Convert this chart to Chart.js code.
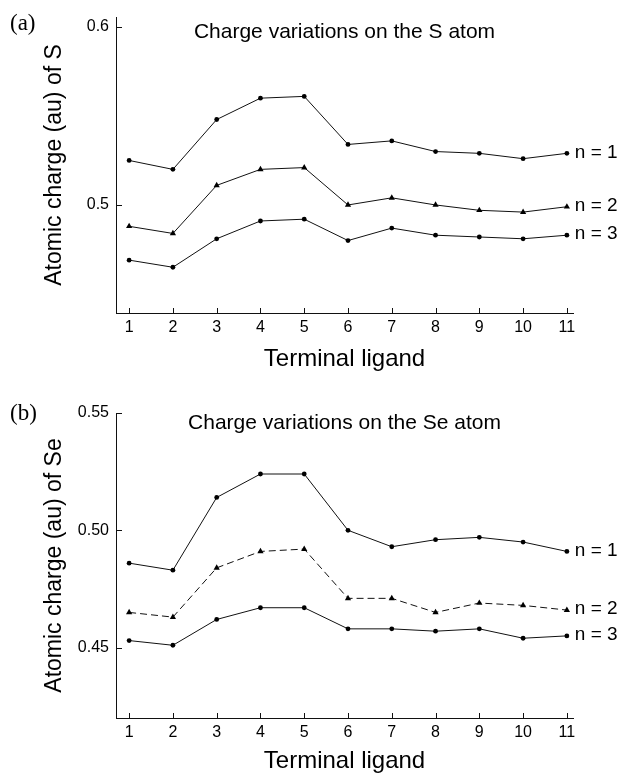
<!DOCTYPE html>
<html>
<head>
<meta charset="utf-8">
<script src="https://cdn.jsdelivr.net/npm/chart.js@4/dist/chart.umd.min.js"></script>
<style>
  body { margin: 0; background: #fff; }
  #wrap { position: relative; width: 621px; height: 776px; overflow: hidden; }
  canvas { position: absolute; left: 0; }
  .panel { position: absolute; font-family: "Liberation Serif", "DejaVu Serif", serif; font-size: 23px; color: #000; }
</style>
</head>
<body>
<div id="wrap">
  <canvas id="chartS" width="621" height="374" style="top:0"></canvas>
  <canvas id="chartSe" width="621" height="406" style="top:370px"></canvas>
  <div class="panel" style="left:10px; top:10px">(a)</div>
  <div class="panel" style="left:10px; top:400px">(b)</div>
</div>
<script>
// terminal ligand index
const ligands = [1, 2, 3, 4, 5, 6, 7, 8, 9, 10, 11];
const seriesNames = ["n = 1", "n = 2", "n = 3"];

// (a) charge on S
const sN1 = [0.525, 0.520, 0.548, 0.560, 0.561, 0.534, 0.536, 0.530, 0.529, 0.526, 0.529];
const sN2 = [0.488, 0.484, 0.511, 0.520, 0.521, 0.500, 0.504, 0.500, 0.497, 0.496, 0.499];
const sN3 = [0.469, 0.465, 0.481, 0.491, 0.492, 0.480, 0.487, 0.483, 0.482, 0.481, 0.483];
const sTicks = [0.5, 0.6];
const sTickLabels = ["0.5", "0.6"];

// (b) charge on Se
const seN1 = [0.486, 0.483, 0.514, 0.524, 0.524, 0.500, 0.493, 0.496, 0.497, 0.495, 0.491];
const seN2 = [0.465, 0.463, 0.484, 0.491, 0.492, 0.471, 0.471, 0.465, 0.469, 0.468, 0.466];
const seN3 = [0.453, 0.451, 0.462, 0.467, 0.467, 0.458, 0.458, 0.457, 0.458, 0.454, 0.455];
const seTicks = [0.45, 0.50, 0.55];
const seTickLabels = ["0.45", "0.50", "0.55"];

const FONT = "'Liberation Sans', Arial, sans-serif";
const INK = "#111";

// short inward tick marks + title inside plot + series labels at line ends
const decorations = {
  id: "decorations",
  afterDraw(chart, args, opts) {
    const ctx = chart.ctx;
    const area = chart.chartArea;
    const xs = chart.scales.x, ys = chart.scales.y;
    ctx.save();
    ctx.strokeStyle = INK;
    ctx.lineWidth = 1;
    ctx.beginPath();
    xs.ticks.forEach(t => {
      const px = Math.round(xs.getPixelForValue(t.value)) + 0.5;
      ctx.moveTo(px, area.bottom);
      ctx.lineTo(px, area.bottom - 5);
    });
    ys.ticks.forEach(t => {
      const py = Math.round(ys.getPixelForValue(t.value)) + 0.5;
      ctx.moveTo(area.left, py);
      ctx.lineTo(area.left + 6, py);
    });
    ctx.stroke();

    ctx.fillStyle = "#000";
    ctx.font = "21px " + FONT;
    ctx.textAlign = "center";
    ctx.textBaseline = "middle";
    ctx.fillText(opts.title, (area.left + area.right) / 2, area.top + opts.titleOffset);

    ctx.font = "19px " + FONT;
    ctx.textAlign = "left";
    chart.data.datasets.forEach((ds, i) => {
      const pts = chart.getDatasetMeta(i).data;
      const last = pts[pts.length - 1];
      ctx.fillText(ds.label, last.x + 8, last.y - 1);
    });
    ctx.restore();
  }
};

function series(label, values, style, dash) {
  return {
    label: label,
    data: ligands.map((x, i) => ({ x: x, y: values[i] })),
    borderColor: INK,
    backgroundColor: "#000",
    borderWidth: 1,
    borderDash: dash || [],
    pointStyle: style,
    pointRadius: style === "triangle" ? 3.6 : 2.4,
    pointBorderWidth: 0,
    tension: 0,
    clip: false
  };
}

function makeChart(id, datasets, yMin, yMax, ticks, tickLabels, yTitle, title, titleOffset, padTop, xHeight) {
  return new Chart(document.getElementById(id), {
    type: "line",
    data: { datasets: datasets },
    plugins: [decorations],
    options: {
      responsive: false,
      animation: false,
      layout: { padding: { top: padTop, right: 48, left: 0, bottom: 0 } },
      plugins: {
        legend: { display: false },
        tooltip: { enabled: false },
        decorations: { title: title, titleOffset: titleOffset }
      },
      scales: {
        x: {
          type: "linear",
          min: 0.7,
          max: 11.14,
          afterBuildTicks: s => { s.ticks = ligands.map(v => ({ value: v })); },
          afterFit: s => { s.height = xHeight; },
          grid: { drawOnChartArea: false, drawTicks: false },
          border: { display: true, color: INK, width: 1 },
          ticks: {
            padding: 5,
            color: "#000",
            font: { family: FONT, size: 16 },
            callback: v => String(v)
          },
          title: {
            display: true,
            text: "Terminal ligand",
            color: "#000",
            font: { family: FONT, size: 24 },
            padding: 0
          }
        },
        y: {
          min: yMin,
          max: yMax,
          afterBuildTicks: s => { s.ticks = ticks.map(v => ({ value: v })); },
          afterFit: s => { s.width = 116; },
          grid: { drawOnChartArea: false, drawTicks: false },
          border: { display: true, color: INK, width: 1 },
          ticks: {
            padding: 7,
            color: "#000",
            font: { family: FONT, size: 16 },
            callback: v => tickLabels[ticks.findIndex(t => Math.abs(t - v) < 1e-9)]
          },
          title: {
            display: true,
            text: yTitle,
            color: "#000",
            font: { family: FONT, size: 23 },
            padding: { top: 41, bottom: 0 }
          }
        }
      }
    }
  });
}

makeChart("chartS",
  [series(seriesNames[0], sN1, "circle"), series(seriesNames[1], sN2, "triangle"), series(seriesNames[2], sN3, "circle")],
  0.4393, 0.6056, sTicks, sTickLabels,
  "Atomic charge (au) of S", "Charge variations on the S atom", 15, 17, 61);

makeChart("chartSe",
  [series(seriesNames[0], seN1, "circle"), series(seriesNames[1], seN2, "triangle", [7, 4]), series(seriesNames[2], seN3, "circle")],
  0.42, 0.55, seTicks, seTickLabels,
  "Atomic charge (au) of Se", "Charge variations on the Se atom", 10, 43, 58);
</script>
</body>
</html>
